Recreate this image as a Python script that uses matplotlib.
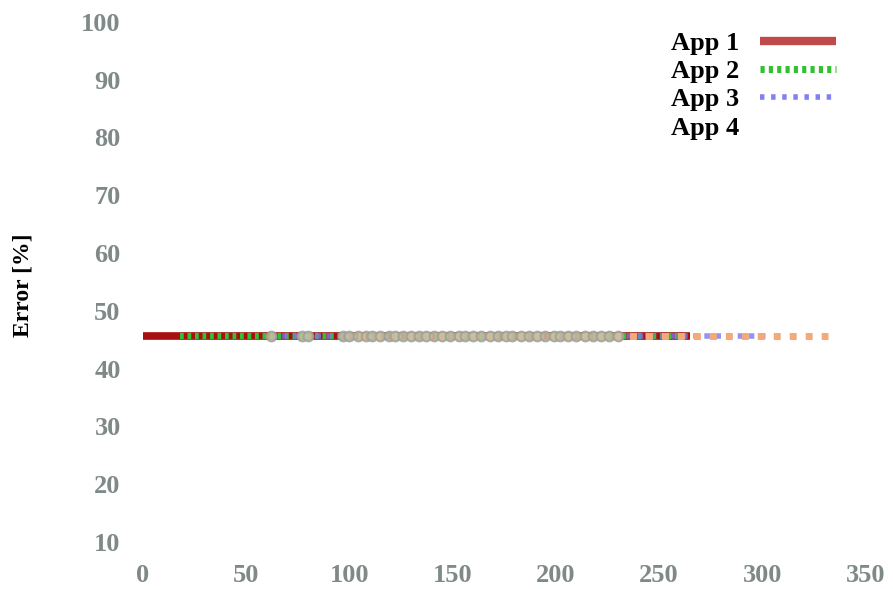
import matplotlib
matplotlib.use("Agg")
import matplotlib.pyplot as plt
from matplotlib.lines import Line2D

# Error level of each application over the measured range
app1_x = [0, 265]
app1_y = [45.7, 45.7]
app2_x = [18, 265]
app2_y = [45.7, 45.7]
app3_x = [62, 302]
app3_y = [45.7, 45.7]
app4_x = [104, 332]
app4_y = [45.7, 45.7]

# Individual sample points
sample_x = [62, 77, 80, 97, 100, 104, 108, 111, 115, 119, 122, 126, 130, 134,
            137, 141, 145, 149, 153, 156, 160, 164, 168, 172, 176, 179, 183,
            187, 191, 195, 199, 202, 206, 210, 214, 218, 222, 226, 230]
sample_y = [45.7] * len(sample_x)

labels = ["App 1", "App 2", "App 3", "App 4"]
x_ticks = [0, 50, 100, 150, 200, 250, 300, 350]
y_ticks = [10, 20, 30, 40, 50, 60, 70, 80, 90, 100]

red = "#a81010"
green = "#33c033"
blue = "#7878f0"
orange = "#f5a878"

fig = plt.figure(figsize=(8.93, 5.89), dpi=100)
ax = fig.add_axes([0.160, 0.080, 0.809, 0.883])

ax.plot(app1_x, app1_y, color=red, lw=5.5, solid_capstyle="butt", zorder=2)
ax.plot(app2_x, app2_y, color=green, lw=4.5, linestyle=(0, (0.6, 0.6)),
        dash_capstyle="butt", zorder=3)
ax.plot(app3_x, app3_y, color=blue, lw=4.0, linestyle=(0, (1.0, 1.0)),
        dash_capstyle="butt", zorder=4, alpha=0.8)
ax.plot(app4_x, app4_y, color=orange, lw=5.0, linestyle=(0, (1.0, 1.3)),
        dash_capstyle="butt", zorder=5)
ax.plot(sample_x, sample_y, linestyle="none", marker="o", markersize=7,
        markerfacecolor="#cbbf9f", markeredgecolor="#9aa39a",
        markeredgewidth=1.5, alpha=0.85, zorder=6)

ax.set_xlim(0, 350)
ax.set_ylim(10, 100)
ax.set_xticks(x_ticks)
ax.set_yticks(y_ticks)
for s in ax.spines.values():
    s.set_visible(False)
ax.tick_params(length=0, labelsize=19, labelcolor="#7f8a88", pad=16)
for t in ax.get_xticklabels() + ax.get_yticklabels():
    t.set_family("Liberation Serif")
    t.set_fontweight("bold")

ax.set_ylabel("Error [%]", fontsize=17, fontweight="bold",
              family="Liberation Serif")
ax.yaxis.set_label_coords(-0.152, 0.494)

handles = [
    Line2D([], [], color="#c04a4a", lw=6, solid_capstyle="butt"),
    Line2D([], [], color="#33c033", lw=5, linestyle=(0, (0.6, 0.6))),
    Line2D([], [], color="#8080f0", lw=4, linestyle=(0, (0.8, 1.2))),
    Line2D([], [], linestyle="none"),
]
leg = ax.legend(handles, labels, loc="upper right",
                bbox_to_anchor=(0.982, 1.012),
                frameon=False, markerfirst=False, handlelength=2.9,
                labelspacing=0.18, handletextpad=0.8, borderaxespad=0.2,
                prop={"family": "Liberation Serif", "weight": "bold", "size": 19})

fig.savefig("out.png", dpi=100)
